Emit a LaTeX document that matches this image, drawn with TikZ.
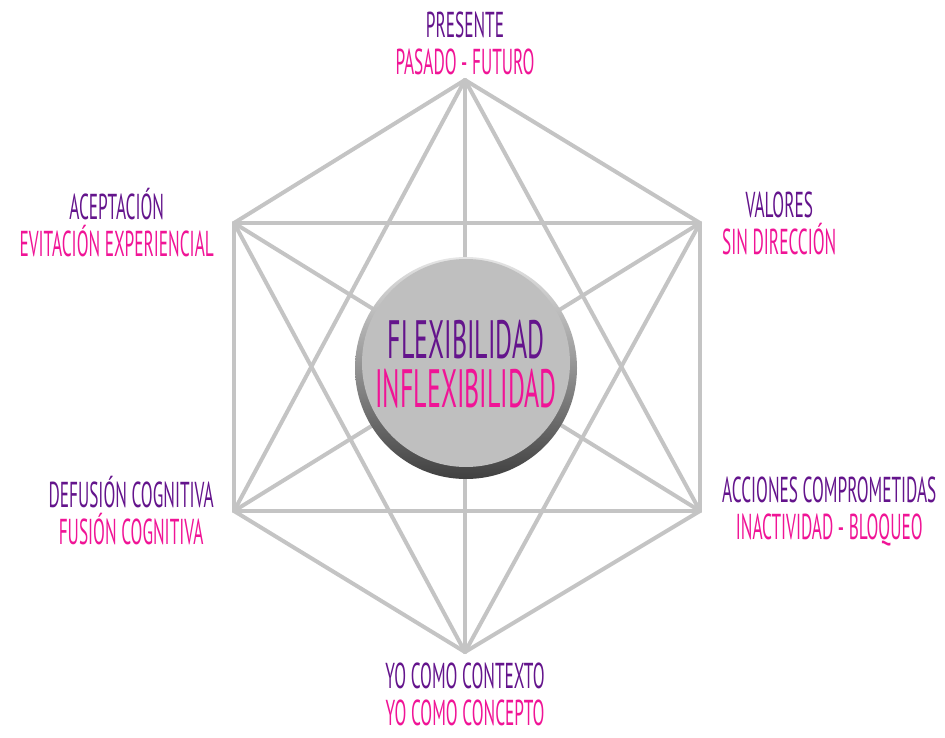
\documentclass[tikz,border=0pt]{standalone}
\usepackage{fontspec}
\setmainfont[FakeStretch=0.48]{PT Sans}
\usetikzlibrary{positioning}
\definecolor{actpurple}{RGB}{100,20,140}
\definecolor{actpink}{RGB}{240,20,150}
\definecolor{edgegray}{RGB}{196,196,196}
\newcommand{\duo}[2]{\textcolor{actpurple}{#1}\\\textcolor{actpink}{#2}}

\begin{document}
\begin{tikzpicture}[
    x=1pt, y=-1pt,
    edge/.style={draw=edgegray, line width=4pt, line join=round, line cap=round},
    tag/.style={align=center, font=\fontsize{36}{37}\selectfont, inner sep=0pt},
    disc/.style={circle, minimum size=222pt, inner sep=0pt, top color=gray!20, bottom color=black!75}
]
\useasboundingbox (0,0) rectangle (945,738);

% Hexagon corners
\coordinate (pres) at (465,80);
\coordinate (val) at (700,223);
\coordinate (acc) at (700,511);
\coordinate (yo) at (465,652);
\coordinate (defu) at (234,511);
\coordinate (acep) at (234,223);

% Every corner joined to every other
\foreach \a/\b in {pres/val, pres/acc, pres/yo, pres/defu, pres/acep,
                   val/acc, val/yo, val/defu, val/acep,
                   acc/yo, acc/defu, acc/acep,
                   yo/defu, yo/acep, defu/acep}
  \draw[edge] (\a) -- (\b);

% Centre button
\node (core) [disc] at (466,368) {};
\fill[gray!50] ([yshift=5pt]core.center) circle (104pt);
\node (coretxt) [align=center, font=\fontsize{54}{49}\selectfont] at ([yshift=4pt]core.center)
  {\duo{FLEXIBILIDAD}{INFLEXIBILIDAD}};

% Labels
\node (presT) [tag, above=5pt of pres, anchor=south] {\duo{PRESENTE}{PASADO - FUTURO}};
\node (valT) [tag, right=22pt of val, anchor=west] {\duo{VALORES}{SIN DIRECCIÓN}};
\node (accT) [tag, right=22pt of acc, anchor=west] {\duo{ACCIONES COMPROMETIDAS}{INACTIVIDAD - BLOQUEO}};
\node (yoT) [tag, below=11pt of yo, anchor=north] {\duo{YO COMO CONTEXTO}{YO COMO CONCEPTO}};
\node (defuT) [tag, left=20pt of defu, anchor=east] {\duo{DEFUSIÓN COGNITIVA}{FUSIÓN COGNITIVA}};
\node (acepT) [tag, left=20pt of acep, anchor=east] {\duo{ACEPTACIÓN}{EVITACIÓN EXPERIENCIAL}};

\end{tikzpicture}
\end{document}
